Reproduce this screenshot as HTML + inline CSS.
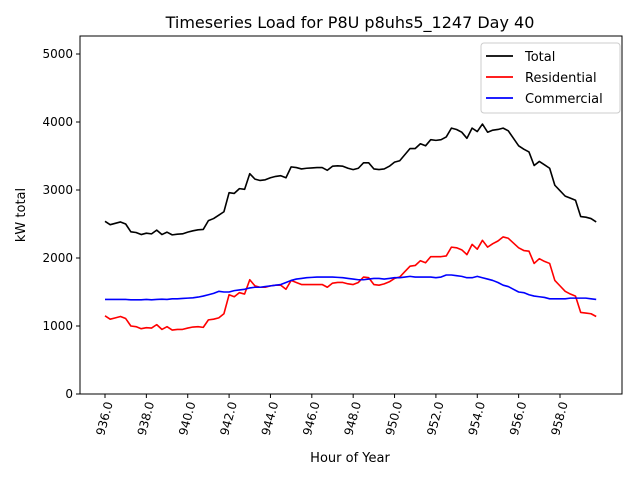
<!DOCTYPE html>
<html><head><meta charset="utf-8"><style>body{margin:0;background:#fff}svg{display:block;font-family:"DejaVu Sans","Liberation Sans",sans-serif}</style></head>
<body>
<svg id="c" width="640" height="480">
<rect width="640" height="480" fill="#fff"/>
<text x="350" y="28" font-size="16" text-anchor="middle">Timeseries Load for P8U p8uhs5_1247  Day 40</text>
<text x="350" y="462" font-size="13" text-anchor="middle">Hour of Year</text>
<text transform="translate(25,215) rotate(-90)" font-size="13" text-anchor="middle">kW total</text>
<g id="plot"></g>
</svg>
<script>
const xStart = 936, xStep = 0.25;
const xTicks = [936,938,940,942,944,946,948,950,952,954,956,958];
const yTicks = [0,1000,2000,3000,4000,5000];
const total = [2540,2490,2510,2530,2500,2385,2375,2345,2365,2355,2410,2345,2380,2340,2350,2355,2380,2400,2415,2420,2550,2580,2630,2680,2960,2950,3020,3010,3240,3160,3140,3150,3180,3200,3210,3180,3340,3330,3310,3320,3325,3330,3330,3290,3350,3355,3350,3320,3300,3320,3400,3400,3310,3300,3310,3350,3410,3430,3520,3610,3610,3680,3650,3740,3730,3740,3780,3910,3890,3850,3760,3910,3860,3970,3850,3880,3890,3910,3870,3760,3650,3600,3560,3360,3420,3370,3320,3070,2990,2910,2880,2850,2610,2600,2580,2530];
const residential = [1150,1100,1120,1140,1110,1000,990,960,975,970,1020,950,990,940,950,950,970,985,990,980,1090,1100,1120,1180,1460,1430,1490,1470,1680,1590,1570,1570,1590,1600,1600,1540,1670,1640,1610,1610,1610,1610,1610,1570,1630,1640,1640,1620,1610,1640,1720,1710,1610,1600,1620,1650,1700,1720,1800,1880,1890,1960,1930,2020,2020,2020,2030,2160,2150,2120,2050,2200,2130,2260,2160,2210,2250,2310,2290,2220,2150,2110,2100,1920,1990,1950,1920,1670,1590,1510,1470,1440,1200,1190,1180,1140];
const commercial = [1390,1390,1390,1390,1390,1385,1385,1385,1390,1385,1390,1395,1390,1400,1400,1405,1410,1415,1425,1440,1460,1480,1510,1500,1500,1520,1530,1540,1560,1570,1570,1580,1590,1600,1610,1640,1670,1690,1700,1710,1715,1720,1720,1720,1720,1715,1710,1700,1690,1680,1680,1690,1700,1700,1690,1700,1710,1710,1720,1730,1720,1720,1720,1720,1710,1720,1750,1750,1740,1730,1710,1710,1730,1710,1690,1670,1640,1600,1580,1540,1500,1490,1460,1440,1430,1420,1400,1400,1400,1400,1410,1410,1410,1410,1400,1390];
const seriesNames = ["Total","Residential","Commercial"];

const L=80,R=622,T=36,B=394;
const xs = v => 105 + (v-936)*(560-105)/22;
const ys = v => 394 - v*0.068;
const NS="http://www.w3.org/2000/svg";
const g=document.getElementById('plot');
function mk(t,a,p){const e=document.createElementNS(NS,t);for(const k in a)e.setAttribute(k,a[k]);(p||g).appendChild(e);return e;}
function path(arr,color,name){
  let d=arr.map((v,i)=>(i?'L':'M')+xs(xStart+i*xStep).toFixed(2)+' '+ys(v).toFixed(2)).join(' ');
  const p=mk('path',{d:d,fill:'none',stroke:color,'stroke-width':1.6,'stroke-linejoin':'round'});
  
  
}
path(total,'#000','total-line');
path(residential,'#f00','residential-line');
path(commercial,'#00f','commercial-line');
mk('rect',{x:L,y:T,width:R-L,height:B-T,fill:'none',stroke:'#000','stroke-width':1});
xTicks.forEach(v=>{
  const x=xs(v);
  mk('line',{x1:x,y1:B,x2:x,y2:B+4,stroke:'#000'});
  const t=mk('text',{transform:`translate(${x+4},${B+8}) rotate(-75)`,'font-size':12,'text-anchor':'end','dominant-baseline':'central'});
  t.textContent=v.toFixed(1);
  
  
});
yTicks.forEach(v=>{
  const y=ys(v);
  mk('line',{x1:L-4,y1:y,x2:L,y2:y,stroke:'#000'});
  const t=mk('text',{x:L-7,y:y+4,'font-size':12,'text-anchor':'end'});
  t.textContent=v;
  
  
});
const lg=mk('g',{});


mk('rect',{x:481,y:43,width:139,height:70,rx:3,fill:'#fff',stroke:'#ccc'},lg);
const cols=['#000','#f00','#00f'];
seriesNames.forEach((n,i)=>{
  const y=56+i*21;
  mk('line',{x1:486,y1:y,x2:513,y2:y,stroke:cols[i],'stroke-width':1.8},lg);
  const t=mk('text',{x:525,y:y+5,'font-size':13},lg);
  t.textContent=n;
  
  
});
</script>
</body></html>
